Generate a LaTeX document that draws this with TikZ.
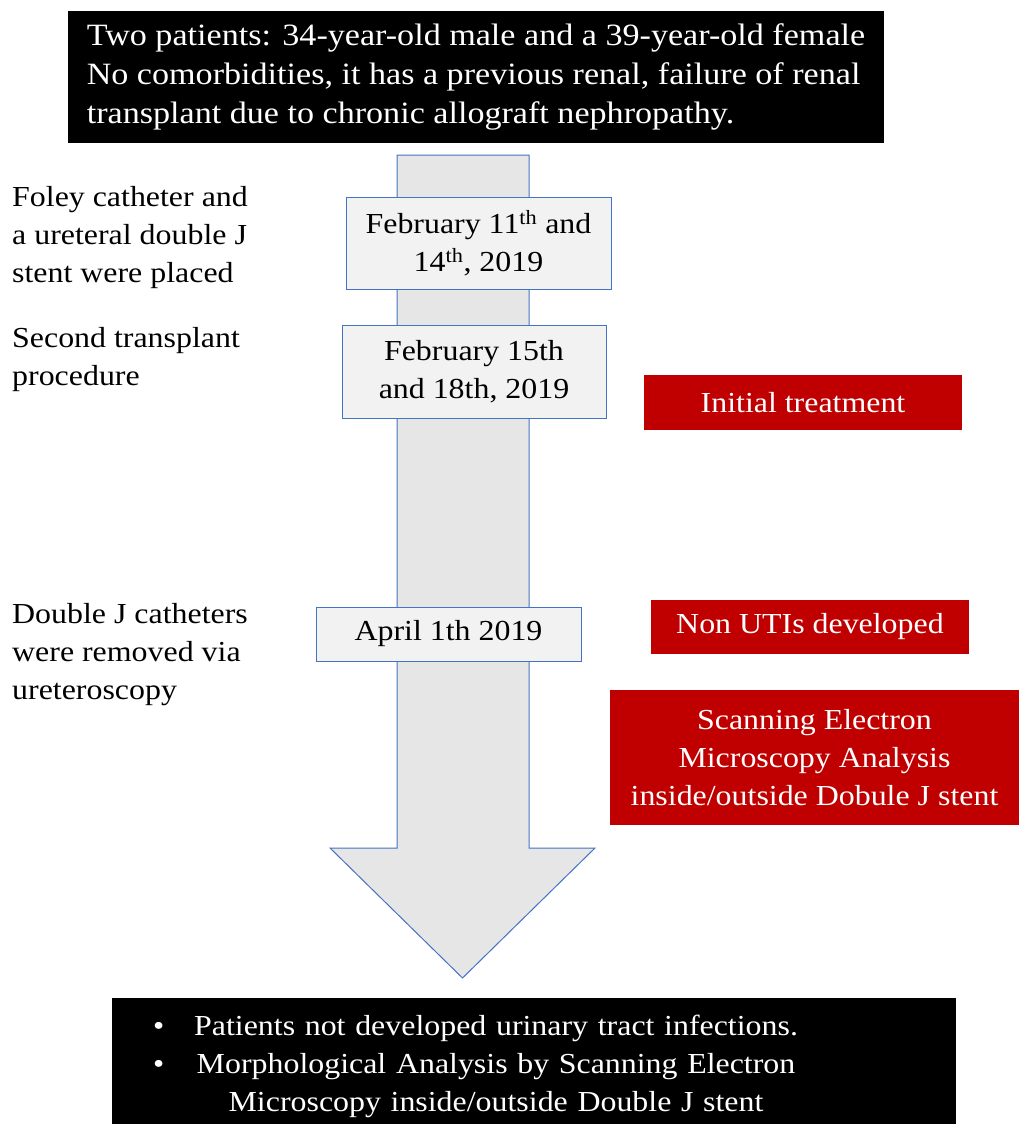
\documentclass[tikz,border=0pt]{standalone}
\usepackage{fontspec}
\setmainfont[FakeStretch=1.1]{Liberation Serif}
\usetikzlibrary{positioning}
\definecolor{boxblue}{HTML}{4472C4}
\definecolor{shaftgray}{HTML}{E7E6E6}
\definecolor{datefill}{HTML}{F2F2F2}
\definecolor{alertred}{HTML}{C00000}
\tikzset{
  every node/.style={font=\fontsize{29}{38}\selectfont, inner sep=0pt},
  black box/.style={fill=black, text=white, align=left},
  date box/.style={draw=boxblue, fill=datefill, line width=1pt, align=center},
  red box/.style={fill=alertred, text=white, align=center},
  side note/.style={anchor=north west, align=left}
}

\begin{document}
\begin{tikzpicture}[x=1pt, y=-1pt]
\useasboundingbox (0,0) rectangle (1019,1124);

% timeline arrow
\draw [boxblue, fill=shaftgray, line width=1pt]
  (397,155) -- (529,155) -- (529,848) -- (595,848) -- (462.5,978)
  -- (330,848) -- (397,848) -- cycle;

\node [black box, minimum width=816, minimum height=131,
       font=\fontsize{31}{39}\selectfont] (patients) at (476,77)
  {Two patients: 34-year-old male and a 39-year-old female\\
   No comorbidities, it has a previous renal, failure of renal\\
   transplant due to chronic allograft nephropathy.};

% dates on the arrow
\node [date box, minimum width=265, minimum height=92] (date-1) at (478.5,243)
  {February 11\textsuperscript{th} and\\ 14\textsuperscript{th}, 2019};
\node [date box, minimum width=264, minimum height=93] (date-2) at (474,371.5)
  {February 15th\\ and 18th, 2019};
\node [date box, minimum width=265, minimum height=54] (date-3) at (448.5,634)
  {April 1th 2019};

% events on the left
\node [side note] (note-1) at (12,186)
  {Foley catheter and\\ a ureteral double J\\ stent were placed};
\node [side note] (note-2) at (12,327)
  {Second transplant\\ procedure};
\node [side note] (note-3) at (12,603)
  {Double J catheters\\ were removed via\\ ureteroscopy};

% outcomes on the right
\node [red box, minimum width=318, minimum height=55] (outcome-1) at (803,402.5)
  {Initial treatment};
\node [red box, minimum width=318, minimum height=54] (outcome-2) at (810,627)
  {Non UTIs developed};
\node [red box, minimum width=409, minimum height=135] (outcome-3) at (814.5,757.5)
  {Scanning Electron\\ Microscopy Analysis\\ inside/outside Dobule J stent};

\node [black box, text width=762, inner xsep=41, minimum height=136] (results) at (534,1066)
  {\begin{tabular}{@{}c@{\hspace{30pt}}c@{}}
   \textbullet & Patients not developed urinary tract infections.\\
   \textbullet & Morphological Analysis by Scanning Electron\\
               & Microscopy inside/outside Double J stent
   \end{tabular}};

\end{tikzpicture}
\end{document}
